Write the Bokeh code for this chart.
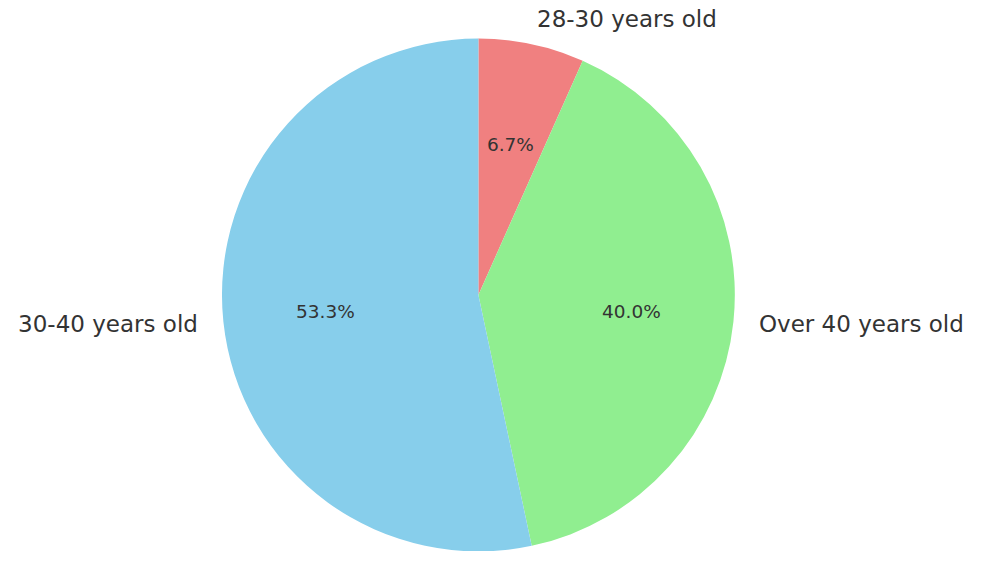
import math
from bokeh.plotting import figure
from bokeh.models import Range1d, ColumnDataSource
from bokeh.core.properties import value
from bokeh.embed import file_html
from bokeh.resources import INLINE

# ---- data ----
categories = ["28-30 years old", "Over 40 years old", "30-40 years old"]
counts = [1, 6, 8]
colors = ["#F08080", "#90EE90", "#87CEEB"]

# ---- layout ----
W, H = 972, 551
s = 0.975
ppu = 263 * s            # pixels per unit radius
cx_pix, cy_pix = 477.9, 294.5  # pie centre in plot pixels (from top-left)

x_start = -cx_pix / ppu
x_end = (W - cx_pix) / ppu
y_end = cy_pix / ppu
y_start = -(H - cy_pix) / ppu

p = figure(width=W, height=H, output_backend="svg", toolbar_location=None,
           x_range=Range1d(x_start, x_end), y_range=Range1d(y_start, y_end),
           min_border=0)
p.axis.visible = False
p.grid.visible = False
p.outline_line_color = None
p.background_fill_color = "white"
p.border_fill_color = "white"

total = float(sum(counts))
starts, ends, mids, pcts = [], [], [], []
cum = 0.0
for c in counts:
    a0 = math.pi / 2 - 2 * math.pi * (cum + c) / total
    a1 = math.pi / 2 - 2 * math.pi * cum / total
    starts.append(a0)
    ends.append(a1)
    mids.append((a0 + a1) / 2)
    pcts.append("%.1f%%" % (100.0 * c / total))
    cum += c

src = ColumnDataSource(dict(start=starts, end=ends, color=colors))
p.wedge(x=0, y=0, radius=1, start_angle="start", end_angle="end",
        direction="anticlock", fill_color="color", line_color=None, source=src)

# outer labels
lx = [1.1 * math.cos(m) for m in mids]
ly = [1.1 * math.sin(m) for m in mids]
for x, y, t in zip(lx, ly, categories):
    p.text(x=[x], y=[y], text=[t], text_align="left" if x > 0 else "right",
           text_baseline="middle", text_font=value("DejaVu Sans"),
           text_font_size="%.1fpx" % (23.6 * s), text_color="#333333")

# percentage labels
px_ = [0.6 * math.cos(m) for m in mids]
py_ = [0.6 * math.sin(m) for m in mids]
p.text(x=px_, y=py_, text=pcts, text_align="center", text_baseline="middle",
       text_font=value("DejaVu Sans"), text_font_size="%.1fpx" % (19.0 * s),
       text_color="#333333")

open("out.html", "w").write(file_html(p, INLINE))
